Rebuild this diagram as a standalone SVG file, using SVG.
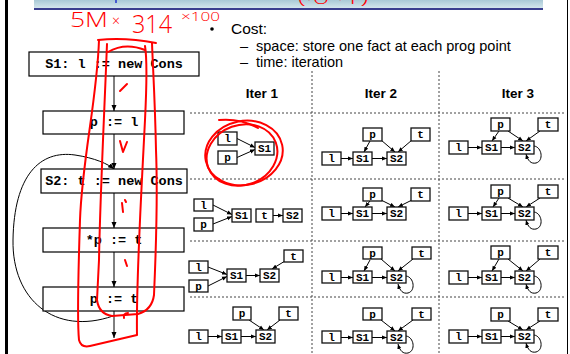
<svg xmlns="http://www.w3.org/2000/svg" width="570" height="354" viewBox="0 0 570 354">
<defs>
<linearGradient id="bar" x1="0" y1="0" x2="0" y2="1"><stop offset="0" stop-color="#a9c9d6"/><stop offset="1" stop-color="#d3e6ec"/></linearGradient>
<marker id="ah" viewBox="0 0 6 6" refX="6" refY="3" markerWidth="5" markerHeight="5" orient="auto" markerUnits="userSpaceOnUse"><path d="M0,0.5 L6,3 L0,5.5 z" fill="#000"/></marker>
<marker id="ah2" viewBox="0 0 6 6" refX="6" refY="3" markerWidth="6" markerHeight="6" orient="auto" markerUnits="userSpaceOnUse"><path d="M0,0.5 L6,3 L0,5.5 z" fill="#000"/></marker>
<style>
.fb{fill:#fff;stroke:#000;stroke-width:1.2}
.ft{font-family:"Liberation Mono","Courier New",monospace;font-weight:bold;font-size:13.5px;text-anchor:middle;fill:#000}
.nb{fill:#fff;stroke:#111;stroke-width:1.3}
.nt{font-family:"Liberation Mono","Courier New",monospace;font-weight:bold;font-size:11px;text-anchor:middle;fill:#000}
.e{stroke:#000;stroke-width:1;fill:none;marker-end:url(#ah)}
.fe{stroke:#000;stroke-width:1;fill:none;marker-end:url(#ah2)}
.dash{stroke:#444;stroke-width:1;stroke-dasharray:2,2;fill:none}
.red{stroke:#f00;fill:none;stroke-width:2;stroke-linecap:round;stroke-linejoin:round}
.rt{fill:#f00;font-family:"Open Sans","DejaVu Sans",sans-serif;font-weight:300}
.tx{font-family:"Liberation Sans",Arial,sans-serif;fill:#000}
.hd{font-family:"Liberation Sans",Arial,sans-serif;font-weight:bold;font-size:13.5px;text-anchor:middle;fill:#000}
</style>
</defs>
<rect x="0" y="0" width="570" height="354" fill="#fff"/>
<rect x="5" y="0" width="3" height="354" fill="#000"/>
<line x1="567.5" y1="0" x2="567.5" y2="354" stroke="#000" stroke-width="1"/>
<rect x="34" y="0" width="509" height="8" fill="url(#bar)"/>
<rect x="34" y="8" width="509" height="2" fill="#3a3f8f"/>
<line x1="116" y1="0" x2="116" y2="3" stroke="#2233cc" stroke-width="1.5"/>

<g id="text">
<circle cx="212" cy="29" r="1.8" fill="#000"/>
<text class="tx" x="231" y="34" font-size="15.5">Cost:</text>
<text class="tx" x="240" y="51" font-size="14.5">–</text>
<text class="tx" x="256" y="51" font-size="14.5">space: store one fact at each prog point</text>
<text class="tx" x="240" y="67" font-size="14.5">–</text>
<text class="tx" x="256" y="67" font-size="14.5">time: iteration</text>
<text class="hd" x="262" y="98">Iter 1</text>
<text class="hd" x="381" y="98">Iter 2</text>
<text class="hd" x="518" y="98">Iter 3</text>
</g>

<g id="grid">
<line class="dash" x1="312" y1="71" x2="312" y2="354"/>
<line class="dash" x1="439" y1="71" x2="439" y2="354"/>
<line class="dash" x1="190" y1="113" x2="565" y2="113"/>
<line class="dash" x1="190" y1="179" x2="565" y2="179"/>
<line class="dash" x1="190" y1="241" x2="565" y2="241"/>
<line class="dash" x1="190" y1="297" x2="565" y2="297"/>
</g>

<g id="flow-connectors">
<line class="fe" x1="114" y1="76" x2="114" y2="111"/>
<line class="fe" x1="114" y1="134" x2="114" y2="169"/>
<line class="fe" x1="114" y1="193" x2="114" y2="228"/>
<line class="fe" x1="114" y1="252" x2="114" y2="287"/>
<line class="fe" x1="114" y1="311" x2="114" y2="338"/>
<path class="fe" d="M113,316 C55,336 12,300 13,240 C14,175 40,150 75,155 C95,158 108,164 114,169"/>
</g>

<g id="s1"><rect class="fb" x="29" y="52" width="170" height="24"/><text class="ft" x="114" y="68">S1: l := new Cons</text></g>
<g id="p-l"><rect class="fb" x="43" y="111" width="141" height="23"/><text class="ft" x="114" y="126">p := l</text></g>
<g id="s2"><rect class="fb" x="41" y="169" width="146" height="24"/><text class="ft" x="114" y="185">S2: t := new Cons</text></g>
<g id="deref"><rect class="fb" x="43" y="228" width="141" height="24"/><text class="ft" x="114" y="244">*p := t</text></g>
<g id="p-t"><rect class="fb" x="43" y="287" width="141" height="24"/><text class="ft" x="114" y="303">p := t</text></g>

<g id="graph-connectors">
<line class="e" x1="237" y1="138.5" x2="255" y2="147.5"/>
<line class="e" x1="237" y1="157.5" x2="255" y2="149.5"/>
<line class="e" x1="213" y1="205" x2="232" y2="214.5"/>
<line class="e" x1="213" y1="224" x2="232" y2="216.5"/>
<line class="e" x1="273" y1="215.5" x2="283" y2="215.5"/>
<line class="e" x1="208" y1="267" x2="227" y2="274.5"/>
<line class="e" x1="208" y1="286" x2="227" y2="276.5"/>
<line class="e" x1="246" y1="275.5" x2="260" y2="275.5"/>
<line class="e" x1="285" y1="261" x2="272" y2="269"/>
<line class="e" x1="208" y1="336.5" x2="222" y2="336.5"/>
<line class="e" x1="241" y1="336.5" x2="256" y2="336.5"/>
<line class="e" x1="249" y1="320" x2="264" y2="330"/>
<line class="e" x1="280" y1="320" x2="267" y2="330"/>
<line class="e" x1="341" y1="158.5" x2="353" y2="158.5"/>
<line class="e" x1="372" y1="158.5" x2="387" y2="158.5"/>
<line class="e" x1="370" y1="141" x2="364" y2="152"/>
<line class="e" x1="381" y1="140" x2="395" y2="152"/>
<line class="e" x1="412" y1="140" x2="398" y2="152"/>
<line class="e" x1="341" y1="213.5" x2="353" y2="213.5"/>
<line class="e" x1="372" y1="213.5" x2="387" y2="213.5"/>
<line class="e" x1="370" y1="201" x2="365" y2="207"/>
<line class="e" x1="381" y1="200" x2="395" y2="207"/>
<line class="e" x1="412" y1="200" x2="398" y2="207"/>
<line class="e" x1="341" y1="277.5" x2="353" y2="277.5"/>
<line class="e" x1="372" y1="277.5" x2="387" y2="277.5"/>
<line class="e" x1="370" y1="260" x2="364" y2="271"/>
<line class="e" x1="381" y1="259" x2="395" y2="271"/>
<line class="e" x1="413" y1="259" x2="398" y2="271"/>
<path class="e" d="M406,276 C414,277 416,291 408,293 C403,294 400,291 398,284"/>
<line class="e" x1="341" y1="337.5" x2="353" y2="337.5"/>
<line class="e" x1="372" y1="337.5" x2="387" y2="337.5"/>
<line class="e" x1="381" y1="320" x2="395" y2="331"/>
<line class="e" x1="413" y1="320" x2="398" y2="331"/>
<path class="e" d="M406,336 C414,337 416,351 408,353 C403,354 400,351 398,344"/>
<line class="e" x1="468" y1="147.5" x2="482" y2="147.5"/>
<line class="e" x1="501" y1="147.5" x2="515" y2="147.5"/>
<line class="e" x1="499" y1="131" x2="492" y2="141"/>
<line class="e" x1="508" y1="131" x2="523" y2="141"/>
<line class="e" x1="540" y1="131" x2="526" y2="141"/>
<path class="e" d="M534,146 C542,147 544,161 536,163 C531,164 528,161 526,154"/>
<line class="e" x1="468" y1="213.5" x2="482" y2="213.5"/>
<line class="e" x1="501" y1="213.5" x2="515" y2="213.5"/>
<line class="e" x1="499" y1="198" x2="493" y2="207"/>
<line class="e" x1="508" y1="198" x2="523" y2="207"/>
<line class="e" x1="540" y1="198" x2="526" y2="207"/>
<path class="e" d="M534,212 C542,213 544,227 536,229 C531,230 528,227 526,220"/>
<line class="e" x1="468" y1="277.5" x2="482" y2="277.5"/>
<line class="e" x1="501" y1="277.5" x2="515" y2="277.5"/>
<line class="e" x1="499" y1="259" x2="492" y2="271"/>
<line class="e" x1="508" y1="259" x2="523" y2="271"/>
<line class="e" x1="540" y1="259" x2="526" y2="271"/>
<path class="e" d="M534,276 C542,277 544,291 536,293 C531,294 528,291 526,284"/>
<line class="e" x1="468" y1="336.5" x2="482" y2="336.5"/>
<line class="e" x1="501" y1="336.5" x2="515" y2="336.5"/>
<line class="e" x1="508" y1="321" x2="523" y2="330"/>
<line class="e" x1="540" y1="321" x2="526" y2="330"/>
<path class="e" d="M534,335 C542,336 544,350 536,352 C531,353 528,350 526,343"/>
</g>

<g id="i1r1">
<rect class="nb" x="218" y="132" width="19" height="13"/><text class="nt" x="227.5" y="142">l</text>
<rect class="nb" x="218" y="151" width="19" height="13"/><text class="nt" x="227.5" y="161">p</text>
<rect class="nb" x="255" y="142" width="19" height="13"/><text class="nt" x="264.5" y="152">S1</text>
</g>
<g id="i1r2">
<rect class="nb" x="194" y="199" width="19" height="12"/><text class="nt" x="203.5" y="208.5">l</text>
<rect class="nb" x="194" y="218" width="19" height="13"/><text class="nt" x="203.5" y="228">p</text>
<rect class="nb" x="232" y="209" width="19" height="13"/><text class="nt" x="241.5" y="219">S1</text>
<rect class="nb" x="256" y="209" width="17" height="13"/><text class="nt" x="264.5" y="219">t</text>
<rect class="nb" x="283" y="209" width="19" height="13"/><text class="nt" x="292.5" y="219">S2</text>
</g>
<g id="i1r3">
<rect class="nb" x="189" y="261" width="19" height="12"/><text class="nt" x="198.5" y="270.5">l</text>
<rect class="nb" x="189" y="280" width="19" height="12"/><text class="nt" x="198.5" y="289.5">p</text>
<rect class="nb" x="227" y="269" width="19" height="13"/><text class="nt" x="236.5" y="279">S1</text>
<rect class="nb" x="260" y="269" width="19" height="13"/><text class="nt" x="269.5" y="279">S2</text>
<rect class="nb" x="284" y="250" width="19" height="12"/><text class="nt" x="293.5" y="259.5">t</text>
</g>
<g id="i1r4">
<rect class="nb" x="233" y="307" width="18" height="13"/><text class="nt" x="242" y="317">p</text>
<rect class="nb" x="279" y="307" width="19" height="13"/><text class="nt" x="288.5" y="317">t</text>
<rect class="nb" x="189" y="330" width="19" height="13"/><text class="nt" x="198.5" y="340">l</text>
<rect class="nb" x="222" y="330" width="19" height="13"/><text class="nt" x="231.5" y="340">S1</text>
<rect class="nb" x="256" y="330" width="19" height="13"/><text class="nt" x="265.5" y="340">S2</text>
</g>
<g id="i2r1">
<rect class="nb" x="363" y="128" width="19" height="13"/><text class="nt" x="372.5" y="138">p</text>
<rect class="nb" x="411" y="128" width="19" height="13"/><text class="nt" x="420.5" y="138">t</text>
<rect class="nb" x="322" y="152" width="19" height="13"/><text class="nt" x="331.5" y="162">l</text>
<rect class="nb" x="353" y="152" width="19" height="13"/><text class="nt" x="362.5" y="162">S1</text>
<rect class="nb" x="387" y="152" width="19" height="13"/><text class="nt" x="396.5" y="162">S2</text>
</g>
<g id="i2r2">
<rect class="nb" x="363" y="188" width="19" height="13"/><text class="nt" x="372.5" y="198">p</text>
<rect class="nb" x="411" y="188" width="19" height="13"/><text class="nt" x="420.5" y="198">t</text>
<rect class="nb" x="322" y="207" width="19" height="13"/><text class="nt" x="331.5" y="217">l</text>
<rect class="nb" x="353" y="207" width="19" height="13"/><text class="nt" x="362.5" y="217">S1</text>
<rect class="nb" x="387" y="207" width="19" height="13"/><text class="nt" x="396.5" y="217">S2</text>
</g>
<g id="i2r3">
<rect class="nb" x="363" y="247" width="19" height="12"/><text class="nt" x="372.5" y="256.5">p</text>
<rect class="nb" x="412" y="247" width="19" height="12"/><text class="nt" x="421.5" y="256.5">t</text>
<rect class="nb" x="322" y="271" width="19" height="12"/><text class="nt" x="331.5" y="280.5">l</text>
<rect class="nb" x="353" y="271" width="19" height="12"/><text class="nt" x="362.5" y="280.5">S1</text>
<rect class="nb" x="387" y="271" width="19" height="12"/><text class="nt" x="396.5" y="280.5">S2</text>
</g>
<g id="i2r4">
<rect class="nb" x="363" y="308" width="19" height="12"/><text class="nt" x="372.5" y="317.5">p</text>
<rect class="nb" x="412" y="308" width="19" height="12"/><text class="nt" x="421.5" y="317.5">t</text>
<rect class="nb" x="322" y="331" width="19" height="12"/><text class="nt" x="331.5" y="340.5">l</text>
<rect class="nb" x="353" y="331" width="19" height="12"/><text class="nt" x="362.5" y="340.5">S1</text>
<rect class="nb" x="387" y="331" width="19" height="12"/><text class="nt" x="396.5" y="340.5">S2</text>
</g>
<g id="i3r1">
<rect class="nb" x="491" y="118" width="19" height="13"/><text class="nt" x="500.5" y="128">p</text>
<rect class="nb" x="538" y="118" width="20" height="13"/><text class="nt" x="548" y="128">t</text>
<rect class="nb" x="449" y="141" width="19" height="13"/><text class="nt" x="458.5" y="151">l</text>
<rect class="nb" x="482" y="141" width="19" height="13"/><text class="nt" x="491.5" y="151">S1</text>
<rect class="nb" x="515" y="141" width="19" height="13"/><text class="nt" x="524.5" y="151">S2</text>
</g>
<g id="i3r2">
<rect class="nb" x="491" y="185" width="19" height="13"/><text class="nt" x="500.5" y="195">p</text>
<rect class="nb" x="538" y="185" width="20" height="13"/><text class="nt" x="548" y="195">t</text>
<rect class="nb" x="449" y="207" width="19" height="13"/><text class="nt" x="458.5" y="217">l</text>
<rect class="nb" x="482" y="207" width="19" height="13"/><text class="nt" x="491.5" y="217">S1</text>
<rect class="nb" x="515" y="207" width="19" height="13"/><text class="nt" x="524.5" y="217">S2</text>
</g>
<g id="i3r3">
<rect class="nb" x="491" y="246" width="19" height="13"/><text class="nt" x="500.5" y="256">p</text>
<rect class="nb" x="538" y="246" width="20" height="13"/><text class="nt" x="548" y="256">t</text>
<rect class="nb" x="449" y="271" width="19" height="13"/><text class="nt" x="458.5" y="281">l</text>
<rect class="nb" x="482" y="271" width="19" height="13"/><text class="nt" x="491.5" y="281">S1</text>
<rect class="nb" x="515" y="271" width="19" height="13"/><text class="nt" x="524.5" y="281">S2</text>
</g>
<g id="i3r4">
<rect class="nb" x="491" y="308" width="19" height="13"/><text class="nt" x="500.5" y="318">p</text>
<rect class="nb" x="538" y="308" width="20" height="13"/><text class="nt" x="548" y="318">t</text>
<rect class="nb" x="449" y="330" width="19" height="13"/><text class="nt" x="458.5" y="340">l</text>
<rect class="nb" x="482" y="330" width="19" height="13"/><text class="nt" x="491.5" y="340">S1</text>
<rect class="nb" x="515" y="330" width="19" height="13"/><text class="nt" x="524.5" y="340">S2</text>
</g>

<g id="annotations">
<text class="rt" x="70" y="27" font-size="20" textLength="38" lengthAdjust="spacingAndGlyphs">5M</text>
<text class="rt" x="112" y="26" font-size="14">×</text>
<text class="rt" x="132" y="33" font-size="26" textLength="40" lengthAdjust="spacingAndGlyphs">314</text>
<text class="rt" x="181" y="21" font-size="12" textLength="39" lengthAdjust="spacingAndGlyphs">×100</text>
<text class="rt" x="298" y="4" font-size="14" textLength="70" lengthAdjust="spacingAndGlyphs">(·0 ·1)</text>
<path class="red" d="M98,40 Q125,37 156,43"/>
<path class="red" d="M99,40 C97,100 82,160 80,220 C78,280 77,320 79,340 Q81,348 90,346 L137,335 C136,280 141,200 145,120 C147,80 147,58 145,46"/>
<path class="red" d="M107,44 C104,120 100,200 99,260 L97,300 Q99,314 112,316 L138,314 Q152,310 154,295 C156,250 158,200 156,150 C155,100 153,70 152,43"/>
<path class="red" d="M108,52 Q125,42 145,50"/>
<ellipse class="red" cx="244" cy="153" rx="39" ry="32" transform="rotate(-12 244 153)"/>
<ellipse class="red" cx="242" cy="155" rx="36" ry="30" transform="rotate(-20 242 155)"/>
<path class="red" d="M219,120 Q240,118 258,128"/>
<path class="red" d="M120,91 L127,84"/>
<path class="red" d="M120,141 L123,152 L127,142"/>
<path class="red" d="M122,203 L123,212 M125,200 L126,202"/>
<path class="red" d="M125,260 L127,266"/>
<path class="red" d="M128,313 Q123,313 124,318"/>
</g>
</svg>
